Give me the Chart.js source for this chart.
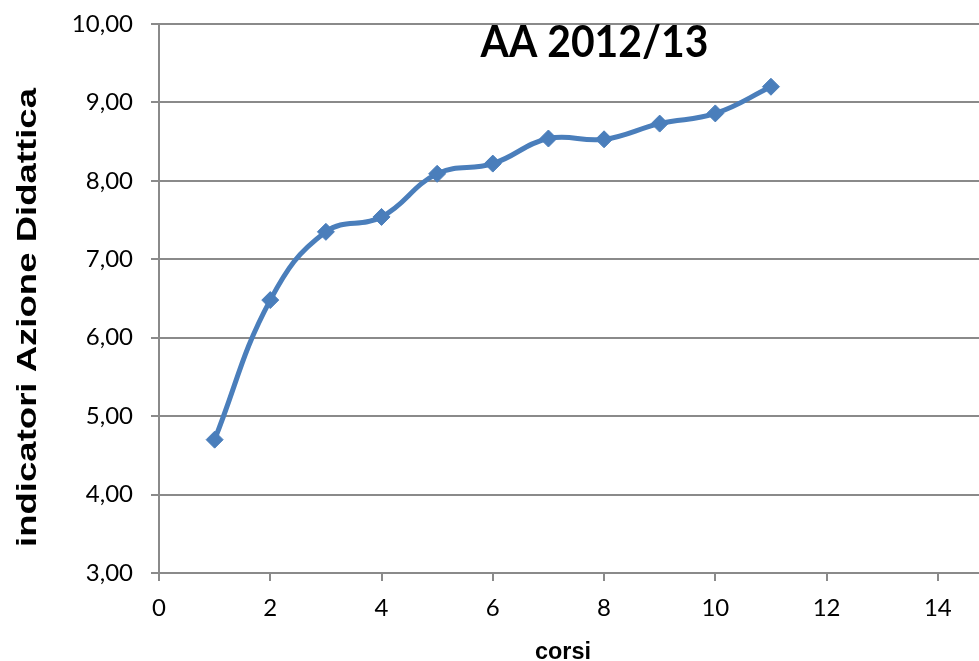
<!DOCTYPE html>
<html>
<head>
<meta charset="utf-8">
<script src="https://cdn.jsdelivr.net/npm/chart.js@4/dist/chart.umd.min.js"></script>
<style>
  html, body { margin: 0; padding: 0; background: #fff; }
  #wrap { width: 979px; height: 661px; position: relative; }
</style>
</head>
<body>
<div id="wrap"><canvas id="c" width="979" height="661"></canvas></div>
<script>
// ---- data ----
const chartTitle = 'AA 2012/13';
const xAxisTitle = 'corsi';
const yAxisTitle = 'indicatori Azione Didattica';
const corsi = [1, 2, 3, 4, 5, 6, 7, 8, 9, 10, 11];
const indicatori = [4.70, 6.48, 7.35, 7.54, 8.09, 8.22, 8.54, 8.53, 8.73, 8.86, 9.20];
const xTicks = [0, 2, 4, 6, 8, 10, 12, 14];
const yTicks = [3, 4, 5, 6, 7, 8, 9, 10];

const points = corsi.map((x, i) => ({ x: x, y: indicatori[i] }));

function fitText(ctx, text, x, y, target, rot) {
  ctx.save();
  ctx.translate(x, y);
  if (rot) ctx.rotate(rot);
  const w = ctx.measureText(text).width;
  ctx.scale(target / w, 1);
  ctx.fillText(text, 0, 0);
  ctx.restore();
}

const titlesPlugin = {
  id: 'titles',
  afterDraw(chart) {
    const ctx = chart.ctx;
    ctx.save();
    ctx.fillStyle = '#000000';
    ctx.textAlign = 'center';
    ctx.textBaseline = 'alphabetic';
    // chart title (inside plot area)
    ctx.font = 'bold 44px Lato';
    fitText(ctx, chartTitle, 594.5, 56.5, 228);
    // x axis title
    ctx.font = 'bold 23px "Liberation Sans"';
    fitText(ctx, xAxisTitle, 563, 659, 56);
    // y axis title
    ctx.font = 'bold 27px "Liberation Sans"';
    fitText(ctx, yAxisTitle, 35.5, 317.5, 459, -Math.PI / 2);
    ctx.restore();
  }
};

const gridColor = '#8a8a8a';

new Chart(document.getElementById('c'), {
  type: 'line',
  data: {
    datasets: [{
      data: points,
      borderColor: '#4A7EBB',
      backgroundColor: '#4A7EBB',
      borderWidth: 5,
      tension: 0.42,
      pointStyle: 'rectRot',
      pointRadius: 8.5,
      pointBorderWidth: 1,
      pointBorderColor: '#4A7EBB',
      pointBackgroundColor: '#4A7EBB',
      fill: false,
      clip: false
    }]
  },
  options: {
    responsive: false,
    animation: false,
    devicePixelRatio: 1,
    layout: { autoPadding: false, padding: { left: 0, top: 24, right: 0, bottom: 0 } },
    plugins: {
      legend: { display: false },
      tooltip: { enabled: false },
      title: { display: false }
    },
    scales: {
      x: {
        type: 'linear',
        min: 0,
        max: 14.74,
        afterFit(s) { s.height = 88; s.paddingLeft = 0; s.paddingRight = 0; },
        afterBuildTicks(s) { s.ticks = xTicks.map(v => ({ value: v })); },
        ticks: {
          stepSize: 2,
          includeBounds: false,
          padding: 13,
          color: '#000',
          font: { family: 'Lato', size: 24 },
          maxRotation: 0,
          autoSkip: false
        },
        grid: {
          display: true,
          drawOnChartArea: false,
          drawTicks: true,
          tickLength: 8,
          color: gridColor,
          lineWidth: 2
        },
        border: { display: true, color: gridColor, width: 2 }
      },
      y: {
        type: 'linear',
        min: 3,
        max: 10,
        afterFit(s) { s.width = 159; s.paddingTop = 0; s.paddingBottom = 0; },
        afterBuildTicks(s) { s.ticks = yTicks.map(v => ({ value: v })); },
        ticks: {
          stepSize: 1,
          padding: 18,
          color: '#000',
          font: { family: 'Lato', size: 24 },
          callback: v => v.toFixed(2).replace('.', ',')
        },
        grid: {
          display: true,
          drawOnChartArea: true,
          drawTicks: true,
          tickLength: 8,
          color: gridColor,
          lineWidth: 2
        },
        border: { display: true, color: gridColor, width: 2 }
      }
    }
  },
  plugins: [titlesPlugin]
});
</script>
</body>
</html>
